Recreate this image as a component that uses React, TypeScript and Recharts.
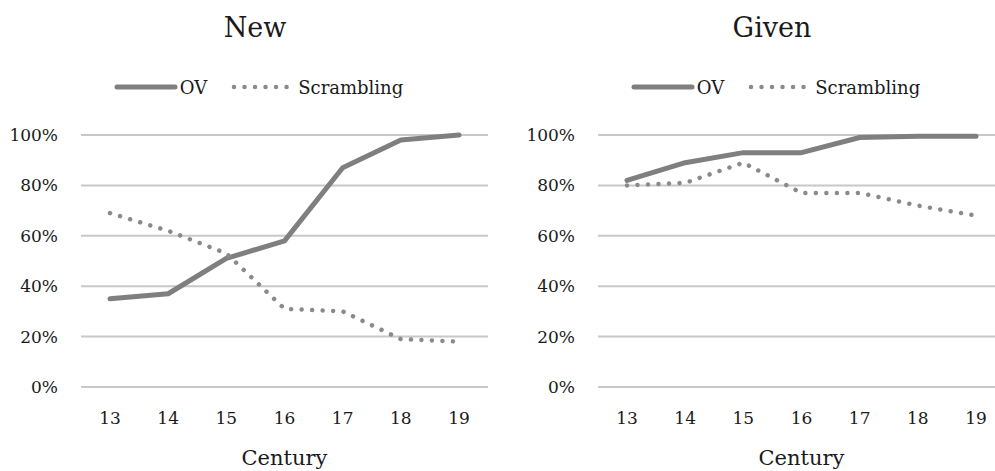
import React from 'react';
import { LineChart, Line, XAxis, YAxis, CartesianGrid, Legend } from 'recharts';

const centuries = ['13', '14', '15', '16', '17', '18', '19'];
const newOV = [35, 37, 51, 58, 87, 98, 100];
const newScrambling = [69, 62, 53, 31, 30, 19, 18];
const givenOV = [82, 89, 93, 93, 99, 99.5, 99.5];
const givenScrambling = [80, 81, 89, 77, 77, 72, 68];
const yTicks = [0, 20, 40, 60, 80, 100];

const FONT = "'DejaVu Serif', 'Liberation Serif', serif";
const LINE_COLOR = '#7f7f7f';
const DOT_COLOR = '#8a8a8a';

const buildData = (ov: number[], sc: number[]) =>
  centuries.map((c, i) => ({ century: c, OV: ov[i], Scrambling: sc[i] }));

const LegendContent = () => (
  <div
    style={{
      display: 'flex',
      justifyContent: 'center',
      alignItems: 'center',
      height: 30,
      fontFamily: FONT,
      fontSize: 18,
      color: '#1a1a1a',
    }}
  >
    <svg width={64} height={10} style={{ display: 'block' }}>
      <line x1={3} y1={5} x2={61} y2={5} stroke={LINE_COLOR} strokeWidth={5} strokeLinecap="round" />
    </svg>
    <span style={{ marginLeft: 2 }}>OV</span>
    <svg width={62} height={10} style={{ display: 'block', marginLeft: 24 }}>
      <line
        x1={3}
        y1={5}
        x2={60}
        y2={5}
        stroke={DOT_COLOR}
        strokeWidth={4.5}
        strokeLinecap="round"
        strokeDasharray="0.01 10.5"
      />
    </svg>
    <span style={{ marginLeft: 5 }}>Scrambling</span>
  </div>
);

const Panel = ({ title, ov, sc, left }: { title: string; ov: number[]; sc: number[]; left: number }) => {
  const data = buildData(ov, sc);
  return (
    <div style={{ position: 'absolute', left, top: 0, width: 510, height: 471 }}>
      <div
        style={{
          position: 'absolute',
          left: 0,
          top: 10,
          width: 510,
          textAlign: 'center',
          fontFamily: FONT,
          fontSize: 27,
          lineHeight: '36px',
          color: '#1a1a1a',
        }}
      >
        {title}
      </div>
      <LineChart width={510} height={471} data={data} margin={{ top: 105, right: 22, bottom: 0, left: 0 }}>
        <CartesianGrid vertical={false} stroke="#c8c8c8" strokeWidth={2} />
        <XAxis
          dataKey="century"
          axisLine={false}
          tickLine={false}
          tickSize={0}
          tickMargin={25}
          height={84}
          padding={{ left: 29, right: 29 }}
          tick={{ fontFamily: FONT, fontSize: 17, fill: '#1a1a1a' }}
          label={{ value: 'Century', position: 'insideBottom', offset: 6, style: { fontFamily: FONT, fontSize: 21, fill: '#1a1a1a' } }}
        />
        <YAxis
          domain={[0, 100]}
          ticks={yTicks}
          tickFormatter={(v: number) => `${v}%`}
          axisLine={false}
          tickLine={false}
          tickSize={0}
          tickMargin={23}
          width={81}
          tick={{ fontFamily: FONT, fontSize: 17, fill: '#1a1a1a' }}
        />
        <Legend verticalAlign="top" height={30} content={<LegendContent />} wrapperStyle={{ top: 72, left: 0, width: 517 }} />
        <Line
          type="linear"
          dataKey="OV"
          stroke={LINE_COLOR}
          strokeWidth={5}
          strokeLinecap="round"
          strokeLinejoin="round"
          dot={false}
          activeDot={false}
          isAnimationActive={false}
        />
        <Line
          type="linear"
          dataKey="Scrambling"
          stroke={DOT_COLOR}
          strokeWidth={4.5}
          strokeLinecap="round"
          strokeDasharray="0.01 10.5"
          dot={false}
          activeDot={false}
          isAnimationActive={false}
        />
      </LineChart>
    </div>
  );
};

export default function App() {
  return (
    <div style={{ position: 'absolute', left: 0, top: 0, width: 995, height: 471, overflow: 'hidden', background: '#fff' }}>
      <Panel title="New" ov={newOV} sc={newScrambling} left={0} />
      <Panel title="Given" ov={givenOV} sc={givenScrambling} left={517} />
    </div>
  );
}
